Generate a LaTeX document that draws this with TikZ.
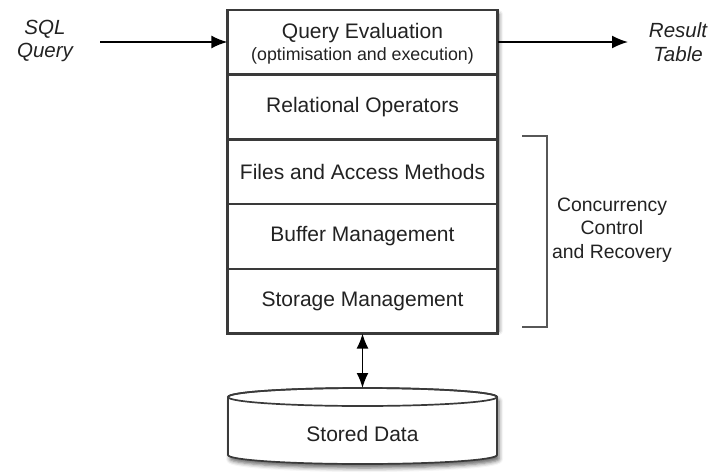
\documentclass[tikz,border=0pt]{standalone}
\usepackage{fontspec}
\setmainfont{Liberation Sans}
\usetikzlibrary{arrows.meta,shadows.blur}

\definecolor{edge}{HTML}{3A3A3A}
\definecolor{ink}{HTML}{222222}

\tikzset{
  layer/.style={draw=edge, line width=1.3pt, fill=white, minimum width=269pt,
    minimum height=63.4pt, inner sep=0pt, anchor=north},
  layertext/.style={font=\fontsize{21}{24}\selectfont, text=ink},
  subtext/.style={font=\fontsize{17.8}{20}\selectfont, text=ink},
  sidetext/.style={font=\fontsize{19.4}{23.5}\selectfont, text=ink, align=center},
  iotext/.style={font=\fontsize{20.5}{23.5}\selectfont\itshape, text=ink, align=center},
  tip/.style={},
  flow/.style={draw=black, line width=1.7pt, -{Latex[length=16pt,width=13pt]}},
  twoway/.style={draw=black, line width=1.7pt,
    {Latex[length=15pt,width=12pt]}-{Latex[length=15pt,width=12pt]}},
  softshadow/.style={blur shadow={shadow xshift=2pt, shadow yshift=-4pt,
    shadow blur radius=4pt, shadow opacity=60}},
}

\begin{document}
\begin{tikzpicture}[x=1pt,y=1pt]
  \useasboundingbox (0,0) rectangle (715,-474);

  % outer frame of the layered engine, with its shadow
  \path[softshadow, fill=white] (228,-10) rectangle (497,-327);

  % the five layers
  \node[layer] (q)   at (362.5,-10)    {};
  \node[layer] (rel) at (q.south)   {};
  \node[layer] (fam) at (rel.south) {};
  \node[layer] (buf) at (fam.south) {};
  \node[layer] (sto) at (buf.south) {};
  \draw[edge, line width=2pt] (q.north west) rectangle (sto.south east);

  \node[layertext] (qt) at ([yshift=9pt]q.center) {Query Evaluation};
  \node[subtext]   (qs) at ([yshift=-14pt]q.center) {(optimisation and execution)};
  \node[layertext] (relt) at (rel.center) {Relational Operators};
  \node[layertext] (famt) at (fam.center) {Files and Access Methods};
  \node[layertext] (buft) at (buf.center) {Buffer Management};
  \node[layertext] (stot) at (sto.center) {Storage Management};

  % input and output
  \node[iotext] (sql) at (45,-41) {SQL\\Query};
  \node[iotext] (res) at (678,-42) {Result\\Table};
  \coordinate (inStart) at (100,-42);
  \coordinate (outEnd) at (628,-42);
  \draw[flow] (inStart) -- (inStart -| q.west);
  \draw[flow] (q.east |- outEnd) -- (outEnd);

  % bracket spanning the lower layers
  \draw[edge!85, line width=1.6pt] (522,-136) -- (547,-136) -- (547,-327) -- (522,-327);
  \node[sidetext] (ccr) at (612,-230) {Concurrency\\Control\\and Recovery};

  % stored data cylinder
  \path[softshadow, fill=white, draw=edge, line width=1.7pt]
    (228,-397) -- (228,-455)
    arc[start angle=180, end angle=360, x radius=134.5pt, y radius=9pt]
    -- (497,-397)
    arc[start angle=0, end angle=180, x radius=134.5pt, y radius=9pt] -- cycle;
  \draw[edge, line width=1.7pt] (362.5,-397) ellipse [x radius=134.5pt, y radius=9pt];
  \node[layertext] (data) at (362.5,-434) {Stored Data};
  \coordinate (dtop) at (362.5,-388);

  \draw[twoway] (sto.south) -- (dtop);
\end{tikzpicture}
\end{document}
